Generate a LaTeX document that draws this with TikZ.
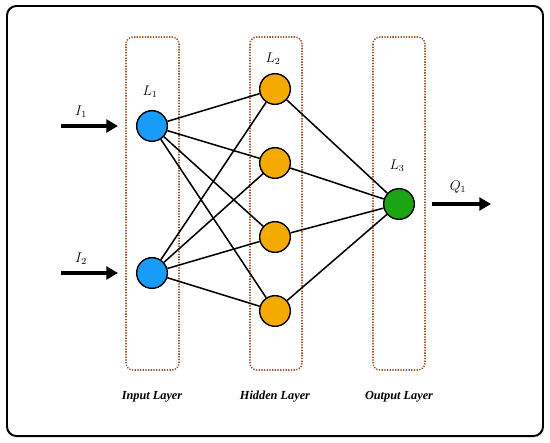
\documentclass[tikz,border=0pt]{standalone}
\usepackage{fontspec}
\setmainfont{Liberation Serif}
\usetikzlibrary{arrows.meta}
\definecolor{inblue}{RGB}{25,155,250}
\definecolor{hidorange}{RGB}{245,170,0}
\definecolor{outgreen}{RGB}{28,165,18}
\definecolor{dotbrown}{RGB}{150,85,45}

\begin{document}
\begin{tikzpicture}[x=0.03cm, y=-0.03cm,
    neuron/.style={circle, draw=black, line width=1.2pt, minimum size=0.92cm, inner sep=0pt},
    layerbox/.style={draw=dotbrown, line width=1.3pt, dash pattern=on 1.1pt off 1.2pt, rounded corners=6pt},
    link/.style={line width=1.3pt},
    feed/.style={line width=3.4pt, -{Triangle[length=10pt,width=11pt]}},
    mathlabel/.style={font=\fontsize{11.5}{13}\selectfont},
    layername/.style={font=\fontsize{10.5}{12}\selectfont\bfseries\itshape}]
    \useasboundingbox (0,0) rectangle (550,443);
    % Frame
    \draw [line width=1.7pt, rounded corners=8pt] (7,6) rectangle (543,436);
    % Layer boxes
    \draw [layerbox] (126,37) rectangle (179,370);
    \draw [layerbox] (250,37) rectangle (302,370);
    \draw [layerbox] (373,37) rectangle (425,370);
    % Neurons
    \node [neuron, fill=inblue] (in1) at (152,126) {};
    \node [neuron, fill=inblue] (in2) at (152,273) {};
    \foreach \i/\y in {1/89, 2/163, 3/237, 4/311}
        \node [neuron, fill=hidorange] (hid\i) at (275,\y) {};
    \node [neuron, fill=outgreen] (out) at (399,204) {};
    % Links
    \foreach \i in {1,2}
        \foreach \j in {1,...,4}
            \draw [link] (in\i) -- (hid\j);
    \foreach \j in {1,...,4}
        \draw [link] (hid\j) -- (out);
    % Inputs and output
    \coordinate (i1start) at (61,126);
    \coordinate (i1end) at (118,126);
    \coordinate (i2start) at (61,273);
    \coordinate (i2end) at (118,273);
    \coordinate (qstart) at (432,204);
    \coordinate (qend) at (491,204);
    \draw [feed] (i1start) -- (i1end);
    \draw [feed] (i2start) -- (i2end);
    \draw [feed] (qstart) -- (qend);
    \node [mathlabel] (labi1) at (81,112) {$I_1$};
    \node [mathlabel] (labi2) at (81,259) {$I_2$};
    \node [mathlabel] (labq) at (458,187) {$Q_1$};
    \node [mathlabel] (labl1) at (150,92) {$L_1$};
    \node [mathlabel] (labl2) at (273,59) {$L_2$};
    \node [mathlabel] (labl3) at (397,166) {$L_3$};
    % Layer names
    \node [layername] (inname) at (152,397) {Input Layer};
    \node [layername] (hidname) at (275,397) {Hidden Layer};
    \node [layername] (outname) at (399,397) {Output Layer};
\end{tikzpicture}
\end{document}
